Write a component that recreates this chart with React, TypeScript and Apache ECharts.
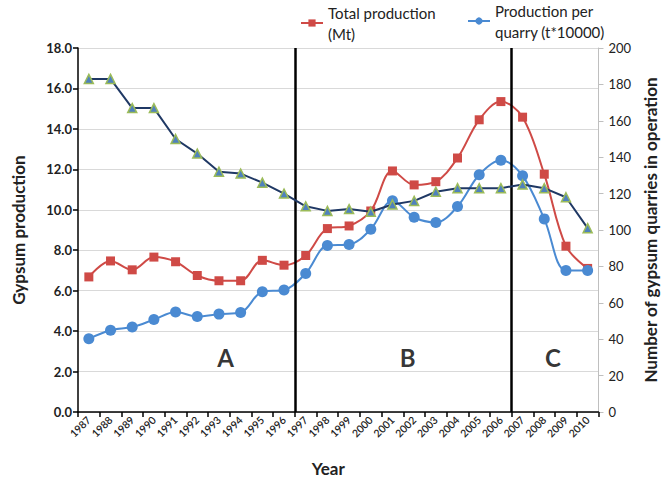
import React, { useEffect, useRef } from "react";
import * as echarts from "echarts";

const years = [
  "1987", "1988", "1989", "1990", "1991", "1992", "1993", "1994", "1995", "1996", "1997", "1998",
  "1999", "2000", "2001", "2002", "2003", "2004", "2005", "2006", "2007", "2008", "2009", "2010",
];

// Total production (Mt) - left axis
const totalProduction = [
  6.68, 7.47, 7.03, 7.66, 7.43, 6.75, 6.49, 6.49, 7.5, 7.26, 7.74, 9.07,
  9.2, 9.94, 11.92, 11.23, 11.39, 12.56, 14.45, 15.35, 14.58, 11.76, 8.2, 7.1,
];

// Production per quarry (t*10000) - left axis
const perQuarry = [
  3.62, 4.04, 4.2, 4.57, 4.95, 4.72, 4.84, 4.92, 5.95, 6.03, 6.85, 8.23,
  8.28, 9.04, 10.45, 9.63, 9.37, 10.16, 11.73, 12.45, 11.68, 9.55, 7.0, 7.0,
];

// Number of gypsum quarries in operation - right axis
const quarries = [
  183, 183, 167, 167, 150, 142, 132, 131, 126, 120, 113, 110.5,
  111.5, 110, 114, 116, 121, 123, 123, 123, 125, 123, 118, 101,
];

const leftTicks = { min: 0, max: 18, interval: 2 };
const rightTicks = { min: 0, max: 200, interval: 20 };

// period boundaries (category index boundaries) and period labels
const periodBoundaries = [10, 20];
const periodLabels = ["A", "B", "C"];
const periodLabelX = [6.8, 15.2, 21.9];
const periodLabelY = 2.7;

const FONT = "Lato, 'Open Sans', sans-serif";

export default function App() {
  const ref = useRef<HTMLDivElement>(null);

  useEffect(() => {
    if (!ref.current) return;
    const chart = echarts.init(ref.current, undefined, { renderer: "svg" });

    const option: any = {
      animation: false,
      backgroundColor: "#ffffff",
      textStyle: { fontFamily: FONT },
      grid: { left: 78, right: 60, top: 48, bottom: 60, containLabel: false },
      legend: [
        {
          data: ["Total production (Mt)"],
          left: 300,
          top: -9,
          padding: 0,
          itemWidth: 22,
          itemHeight: 9,
          formatter: () => "Total production\n(Mt)",
          textStyle: {
            fontFamily: FONT,
            fontSize: 15,
            color: "#222",
            lineHeight: 21,
            padding: [22, 0, 0, 0],
          },
        },
        {
          data: ["Production per quarry (t*10000)"],
          left: 467,
          top: -10,
          padding: 0,
          itemWidth: 22,
          itemHeight: 9,
          formatter: () => "Production per\nquarry (t*10000)",
          textStyle: {
            fontFamily: FONT,
            fontSize: 15,
            color: "#222",
            lineHeight: 21,
            padding: [20, 0, 0, 0],
          },
        },
      ],
      xAxis: [
        {
          type: "category",
          data: years,
          boundaryGap: true,
          name: "Year",
          nameLocation: "middle",
          nameGap: 48,
          nameTextStyle: {
            fontFamily: FONT,
            fontSize: 17,
            fontWeight: "bold",
            color: "#222",
            padding: [0, 20, 0, 0],
          },
          axisLine: { lineStyle: { color: "#000", width: 1.5 } },
          axisTick: { show: true, length: 5, lineStyle: { color: "#000", width: 1.5 } },
          axisLabel: {
            rotate: 45,
            fontSize: 10.5,
            fontWeight: 600,
            margin: 6,
            color: "#222",
            fontFamily: FONT,
            interval: 0,
          },
          splitLine: { show: false },
        },
        {
          type: "value",
          min: 0,
          max: years.length,
          show: false,
        },
      ],
      yAxis: [
        {
          type: "value",
          min: leftTicks.min,
          max: leftTicks.max,
          interval: leftTicks.interval,
          name: "Gypsum production",
          nameLocation: "middle",
          nameRotate: 90,
          nameGap: 51,
          nameTextStyle: { fontFamily: FONT, fontSize: 17, fontWeight: "bold", color: "#222" },
          axisLine: { show: true, lineStyle: { color: "#000", width: 1.5 } },
          axisTick: { show: true, length: 5, lineStyle: { color: "#000", width: 1.5 } },
          axisLabel: {
            formatter: (v: number) => v.toFixed(1),
            fontSize: 13,
            fontWeight: "bold",
            color: "#222",
            margin: 6,
            fontFamily: FONT,
          },
          splitLine: { show: true, lineStyle: { color: "#d9d9d9", width: 1 } },
        },
        {
          type: "value",
          min: rightTicks.min,
          max: rightTicks.max,
          interval: rightTicks.interval,
          name: "Number of gypsum quarries in operation",
          nameLocation: "middle",
          nameRotate: 90,
          nameGap: 42,
          nameTextStyle: { fontFamily: FONT, fontSize: 17, fontWeight: "bold", color: "#222" },
          axisLine: { show: true, lineStyle: { color: "#bfbfbf", width: 1 } },
          axisTick: { show: true, length: 5, lineStyle: { color: "#bfbfbf" } },
          axisLabel: { fontSize: 13, color: "#222", margin: 10, fontFamily: FONT },
          splitLine: { show: false },
        },
      ],
      series: [
        {
          name: "Total production (Mt)",
          type: "line",
          xAxisIndex: 0,
          yAxisIndex: 0,
          data: totalProduction,
          smooth: 0.35,
          symbol: "rect",
          symbolSize: 9,
          lineStyle: { color: "#cf4a46", width: 2 },
          itemStyle: { color: "#cf4a46" },
          z: 3,
        },
        {
          name: "Production per quarry (t*10000)",
          type: "line",
          xAxisIndex: 0,
          yAxisIndex: 0,
          data: perQuarry,
          smooth: 0.35,
          symbol: "circle",
          symbolSize: 11,
          lineStyle: { color: "#4a8ad2", width: 2 },
          itemStyle: { color: "#4a8ad2" },
          z: 4,
        },
        {
          name: "Number of quarries",
          type: "line",
          xAxisIndex: 0,
          yAxisIndex: 1,
          data: quarries,
          smooth: false,
          symbol: "triangle",
          symbolSize: 9,
          lineStyle: { color: "#1f3864", width: 2 },
          itemStyle: { color: "#4f81bd", borderColor: "#9bbb59", borderWidth: 1.5 },
          z: 5,
        },
        {
          name: "periods",
          type: "scatter",
          xAxisIndex: 1,
          yAxisIndex: 0,
          data: periodLabels.map((l, i) => ({ name: l, value: [periodLabelX[i], periodLabelY] })),
          symbolSize: 1,
          itemStyle: { color: "rgba(0,0,0,0)" },
          label: {
            show: true,
            position: "inside",
            formatter: "{b}",
            fontFamily: FONT,
            fontSize: 24,
            fontWeight: "bold",
            color: "#000",
          },
          markLine: {
            silent: true,
            symbol: "none",
            label: { show: false },
            lineStyle: { color: "#000", width: 2.5, type: "solid" },
            data: periodBoundaries.map((b) => ({ xAxis: b })),
          },
          z: 6,
        },
      ],
    };

    chart.setOption(option);
    return () => chart.dispose();
  }, []);

  return (
    <div
      ref={ref}
      style={{ position: "fixed", left: 0, top: 0, width: 667, height: 482, background: "#fff" }}
    />
  );
}
